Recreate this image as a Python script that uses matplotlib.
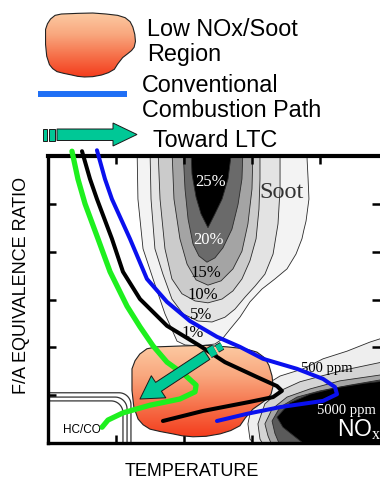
import numpy as np
import matplotlib
matplotlib.use("Agg")
import matplotlib.pyplot as plt
import matplotlib.patheffects as pe
from matplotlib.patches import Polygon
from matplotlib.colors import LinearSegmentedColormap

plt.rcParams['font.family'] = ['Liberation Sans', 'DejaVu Sans']
plt.rcParams['mathtext.fontset'] = 'custom'
plt.rcParams['mathtext.rm'] = 'Liberation Serif'

# axis ranges: temperature (K) and fuel/air equivalence ratio
T_lim = (1000, 2953)
phi_lim = (0, 6)
T_ticks = [1000, 1400, 1800, 2200, 2600, 3000]
phi_ticks = [0, 1, 2, 3, 4, 5, 6]

# soot yield contours (outer -> inner), outline points (T, phi)
soot_1_T = [1524, 1529, 1559, 1618, 1688, 1759, 1806, 1894, 1982, 2024, 2071, 2129, 2188,
            2259, 2335, 2406, 2459, 2494, 2505, 2518, 2535, 2530, 2524, 2524]
soot_1_phi = [6.15, 5.10, 4.06, 3.43, 2.70, 2.13, 2.05, 2.03, 2.07, 2.17, 2.38, 2.63, 2.95,
              3.22, 3.43, 3.64, 3.95, 4.27, 4.45, 4.64, 5.10, 5.52, 5.94, 6.15]
soot_5_T = [1600, 1606, 1629, 1676, 1729, 1794, 1882, 1965, 2041, 2100, 2159, 2218, 2276,
            2324, 2353, 2365, 2365]
soot_5_phi = [6.15, 5.10, 4.06, 3.53, 3.01, 2.70, 2.55, 2.53, 2.63, 2.80, 3.05, 3.28, 3.53,
              3.95, 4.58, 5.31, 6.15]
soot_10_T = [1647, 1659, 1688, 1729, 1788, 1865, 1941, 2024, 2088, 2141, 2188, 2224, 2241,
             2247, 2247]
soot_10_phi = [6.15, 5.10, 4.06, 3.43, 3.12, 2.97, 2.93, 3.01, 3.18, 3.43, 3.81, 4.27, 4.89,
               5.52, 6.15]
soot_15_T = [1729, 1741, 1776, 1818, 1871, 1941, 2018, 2088, 2141, 2176, 2200, 2206]
soot_15_phi = [6.15, 5.10, 4.27, 3.74, 3.41, 3.30, 3.39, 3.64, 4.01, 4.58, 5.31, 6.15]
soot_20_T = [1794, 1806, 1824, 1853, 1888, 1935, 1982, 2029, 2082, 2118, 2141, 2147]
soot_20_phi = [6.15, 5.31, 4.68, 4.16, 3.91, 3.78, 3.87, 4.08, 4.47, 4.99, 5.52, 6.15]
soot_25_T = [1841, 1847, 1871, 1900, 1941, 1982, 2024, 2059, 2082]
soot_25_phi = [6.15, 5.62, 5.14, 4.79, 4.50, 4.79, 5.10, 5.52, 6.15]
soot_colors = ['#f3f3f3', '#e3e3e3', '#cbcbcb', '#a4a4a4', '#6a6a6a', '#000000']
soot_labels = ['1%', '5%', '10%', '15%', '20%', '25%']
soot_label_T = [1853, 1900, 1912, 1929, 1947, 1959]
soot_label_phi = [2.32, 2.70, 3.12, 3.58, 4.27, 5.48]

# NOx contours (outer -> inner)
nox_1_T = [2176, 2200, 2259, 2365, 2500, 2618, 2759, 2894, 2990, 2990, 2259, 2188]
nox_1_phi = [0.40, 0.82, 1.17, 1.40, 1.55, 1.76, 1.92, 2.11, 2.22, -0.2, -0.2, 0.08]
nox_2_T = [2235, 2276, 2365, 2482, 2629, 2776, 2990, 2990, 2294, 2247]
nox_2_phi = [0.40, 0.82, 1.09, 1.28, 1.42, 1.55, 1.71, -0.2, -0.2, 0.08]
nox_3_T = [2276, 2318, 2406, 2541, 2718, 2990, 2990, 2335, 2294]
nox_3_phi = [0.40, 0.71, 0.96, 1.13, 1.30, 1.44, -0.2, -0.2, 0.15]
nox_4_T = [2318, 2365, 2465, 2600, 2776, 2990, 2990, 2382, 2335]
nox_4_phi = [0.46, 0.75, 0.96, 1.09, 1.21, 1.34, -0.2, -0.2, 0.20]
nox_5_T = [2347, 2423, 2541, 2688, 2865, 2990, 2990, 2571, 2453, 2382]
nox_5_phi = [0.54, 0.84, 1.02, 1.15, 1.25, 1.30, -0.2, -0.2, 0.13, 0.33]
nox_colors = ['#eeeeee', '#d4d4d4', '#a6a6a6', '#5a5a5a', '#000000']

# low NOx / soot window
blob_T = [1494, 1512, 1540, 1582, 1640, 1720, 1794, 1930, 2053, 2160, 2229, 2275, 2300,
          2318, 2324, 2312, 2288, 2250, 2206, 2160, 2129, 2075, 2012, 1930, 1853, 1790,
          1735, 1660, 1600, 1560, 1530, 1505, 1494]
blob_phi = [1.55, 1.72, 1.86, 1.97, 2.01, 2.02, 2.03, 2.04, 2.01, 1.97, 1.90, 1.78, 1.62,
            1.40, 1.19, 1.02, 0.92, 0.82, 0.71, 0.52, 0.36, 0.26, 0.19, 0.14, 0.13, 0.15,
            0.19, 0.24, 0.29, 0.38, 0.50, 0.75, 1.10]

# HC/CO boundary lines
hc_box_T = [1488, 1465, 1441]
hc_box_phi = [1.05, 0.96, 0.88]

# combustion paths
green_T = [1141, 1176, 1218, 1294, 1365, 1465, 1541, 1618, 1700, 1806, 1871, 1865, 1776,
           1600, 1441, 1353, 1318]
green_phi = [6.10, 5.52, 5.00, 4.27, 3.58, 2.86, 2.43, 2.03, 1.69, 1.42, 1.21, 1.07, 0.92,
             0.79, 0.63, 0.48, 0.33]
black_T = [1200, 1247, 1288, 1376, 1441, 1541, 1700, 1894, 2041, 2229, 2347, 2376, 2324,
           2188, 1912, 1676]
black_phi = [6.10, 5.52, 5.10, 4.27, 3.58, 3.01, 2.45, 2.03, 1.69, 1.38, 1.19, 1.09, 0.96,
             0.86, 0.67, 0.46]
blue_T = [1288, 1335, 1376, 1482, 1582, 1700, 1835, 1994, 2129, 2265, 2465, 2618, 2688,
          2700, 2618, 2365, 2171, 1994]
blue_phi = [6.12, 5.52, 5.10, 4.27, 3.43, 2.95, 2.55, 2.22, 2.01, 1.76, 1.55, 1.34, 1.17,
            1.02, 0.88, 0.75, 0.61, 0.46]

# LTC arrow: tail -> tip
ltc_T = [1935, 1541]
ltc_phi = [1.84, 0.92]

teal = '#00c896'
blob_cmap = LinearSegmentedColormap.from_list(
    'blob', ['#fccaa2', '#f9a77e', '#f6714a', '#f43c1c'])
grad = np.linspace(0, 1, 256).reshape(-1, 1)

fig = plt.figure(figsize=(3.8, 4.81), dpi=100)
ax = fig.add_axes([48 / 380, 1 - 444 / 481, 332 / 380, 287 / 481])

# soot peninsula
soot_T = [soot_1_T, soot_5_T, soot_10_T, soot_15_T, soot_20_T, soot_25_T]
soot_phi = [soot_1_phi, soot_5_phi, soot_10_phi, soot_15_phi, soot_20_phi, soot_25_phi]
for T, phi, c in zip(soot_T, soot_phi, soot_colors):
    ax.add_patch(Polygon(np.column_stack([T, phi]), closed=True, fc=c,
                         ec='#2a2a2a', lw=0.6, zorder=1))
for lab, T, phi in zip(soot_labels, soot_label_T, soot_label_phi):
    col = 'white' if lab in ('20%', '25%') else 'black'
    ax.text(T, phi, lab, family='Liberation Serif', fontsize=12, color=col,
            ha='center', va='center', zorder=1.5)
ax.text(2371, 5.25, 'Soot', family='Liberation Serif', fontsize=17.5,
        color='#333333', ha='center', va='center', zorder=1.5)

# NOx region
nox_T = [nox_1_T, nox_2_T, nox_3_T, nox_4_T, nox_5_T]
nox_phi = [nox_1_phi, nox_2_phi, nox_3_phi, nox_4_phi, nox_5_phi]
for T, phi, c in zip(nox_T, nox_phi, nox_colors):
    ax.add_patch(Polygon(np.column_stack([T, phi]), closed=True, fc=c,
                         ec='#2a2a2a', lw=0.6, zorder=1))
ax.text(2641, 1.57, '500 ppm', family='Liberation Serif', fontsize=10.5,
        ha='center', va='center', zorder=1.5)
ax.text(2753, 0.69, '5000 ppm', family='Liberation Serif', fontsize=10.5,
        color='white', ha='center', va='center', zorder=1.5)
ax.text(2700, 0.31, r'NO$_{\mathrm{x}}$', fontsize=16.5, color='white',
        ha='left', va='center', zorder=1.5)

# HC/CO corner lines
a = np.linspace(0, np.pi / 2, 20)
for Tr, ph in zip(hc_box_T, hc_box_phi):
    rT, rp = 70, 0.25
    xs = np.concatenate([[T_lim[0]], Tr - rT + rT * np.sin(a), [Tr]])
    ys = np.concatenate([[ph], ph - rp + rp * np.cos(a), [0]])
    ax.plot(xs, ys, color='#333333', lw=0.9, zorder=1.2)
ax.text(1088, 0.23, 'HC/CO', fontsize=8.5, ha='left', va='baseline', zorder=1.5)

# low NOx/soot region with vertical colour gradient
blob = Polygon(np.column_stack([blob_T, blob_phi]), closed=True, fc='none',
               ec='#222222', lw=0.8, zorder=2.1)
ax.add_patch(blob)
im = ax.imshow(grad, extent=(min(blob_T), max(blob_T), min(blob_phi), max(blob_phi)),
               aspect='auto', cmap=blob_cmap, origin='upper', zorder=2)
im.set_clip_path(blob)

# combustion paths
ax.plot(green_T, green_phi, color='#1ef01e', lw=3.8, solid_capstyle='round',
        solid_joinstyle='round', zorder=3, clip_on=False)
ax.plot(black_T, black_phi, color='black', lw=2.9, solid_capstyle='round',
        solid_joinstyle='round', zorder=3.1, clip_on=False)
ax.plot(blue_T, blue_phi, color='#0a10ee', lw=2.9, solid_capstyle='round',
        solid_joinstyle='round', zorder=3.2, clip_on=False)

# toward-LTC arrow
ax.annotate('', xy=(ltc_T[1], ltc_phi[1]), xytext=(ltc_T[0], ltc_phi[0]),
            arrowprops=dict(arrowstyle='simple,head_length=0.8,head_width=0.95,tail_width=0.38',
                            mutation_scale=20, fc=teal, ec='#1a1a1a', lw=0.7,
                            shrinkA=0, shrinkB=0),
            zorder=4)
stroke = [pe.Stroke(linewidth=8.2, foreground='#1a1a1a'), pe.Normal()]
ax.plot([1947, 1982], [1.88, 1.95], color=teal, lw=7, solid_capstyle='butt',
        path_effects=stroke, zorder=4)
stroke2 = [pe.Stroke(linewidth=6.2, foreground='#1a1a1a'), pe.Normal()]
ax.plot([1994, 2024], [1.97, 2.03], color=teal, lw=5, solid_capstyle='butt',
        path_effects=stroke2, zorder=4)

ax.set_xlim(*T_lim)
ax.set_ylim(*phi_lim)
ax.set_xticks(T_ticks)
ax.set_yticks(phi_ticks)
ax.set_xlim(*T_lim)
ax.tick_params(direction='in', length=6, width=1.8, color='black',
               labelbottom=False, labelleft=False, top=True, right=True)
ax.spines['right'].set_visible(False)
ax.spines['top'].set_linewidth(3)
ax.spines['left'].set_linewidth(2.4)
ax.spines['bottom'].set_linewidth(2.4)
for s in ('top', 'left', 'bottom'):
    ax.spines[s].set_zorder(2.5)

ax.set_ylabel('F/A EQUIVALENCE RATIO', fontsize=13, va='center')
ax.yaxis.set_label_coords(-0.08, 0.554)
ax.set_xlabel('TEMPERATURE', fontsize=13, va='baseline')
ax.xaxis.set_label_coords(0.434, -0.113)

# legend, laid out in figure pixels
lax = fig.add_axes([0, 0, 1, 1], zorder=5)
lax.set_xlim(0, 380)
lax.set_ylim(481, 0)
lax.axis('off')

bax = fig.add_axes([45 / 380, 1 - 79 / 481, 91 / 380, 66 / 481], zorder=6)
bax.axis('off')
lblob = Polygon(np.column_stack([blob_T, blob_phi]), closed=True, fc='none',
                ec='#222222', lw=0.8, zorder=2)
bax.add_patch(lblob)
lim = bax.imshow(grad, extent=(min(blob_T), max(blob_T), min(blob_phi), max(blob_phi)),
                 aspect='auto', cmap=blob_cmap, origin='upper', zorder=1)
lim.set_clip_path(lblob)
bax.set_xlim(min(blob_T) - 5, max(blob_T) + 5)
bax.set_ylim(min(blob_phi) - 0.03, max(blob_phi) + 0.03)

lax.text(147, 36, 'Low NOx/Soot', fontsize=16.8, va='baseline')
lax.text(147, 61, 'Region', fontsize=16.8, va='baseline')
lax.plot([38, 127], [95, 95], color='#1f6ff5', lw=4.3, solid_capstyle='butt')
lax.text(142, 92, 'Conventional', fontsize=16.8, va='baseline')
lax.text(142, 117, 'Combustion Path', fontsize=16.8, va='baseline')
lax.add_patch(Polygon([(57, 130), (113, 130), (113, 124), (137, 135.5), (113, 147),
                       (113, 141.5), (57, 141.5)], closed=True, fc=teal, ec='#1a1a1a', lw=0.7))
lax.add_patch(Polygon([(43, 130), (47, 130), (47, 141.5), (43, 141.5)], closed=True,
                      fc=teal, ec='#1a1a1a', lw=0.7))
lax.add_patch(Polygon([(49, 130), (55, 130), (55, 141.5), (49, 141.5)], closed=True,
                      fc=teal, ec='#1a1a1a', lw=0.7))
lax.text(153, 147, 'Toward LTC', fontsize=16.8, va='baseline')

fig.savefig('out.png', dpi=100)
